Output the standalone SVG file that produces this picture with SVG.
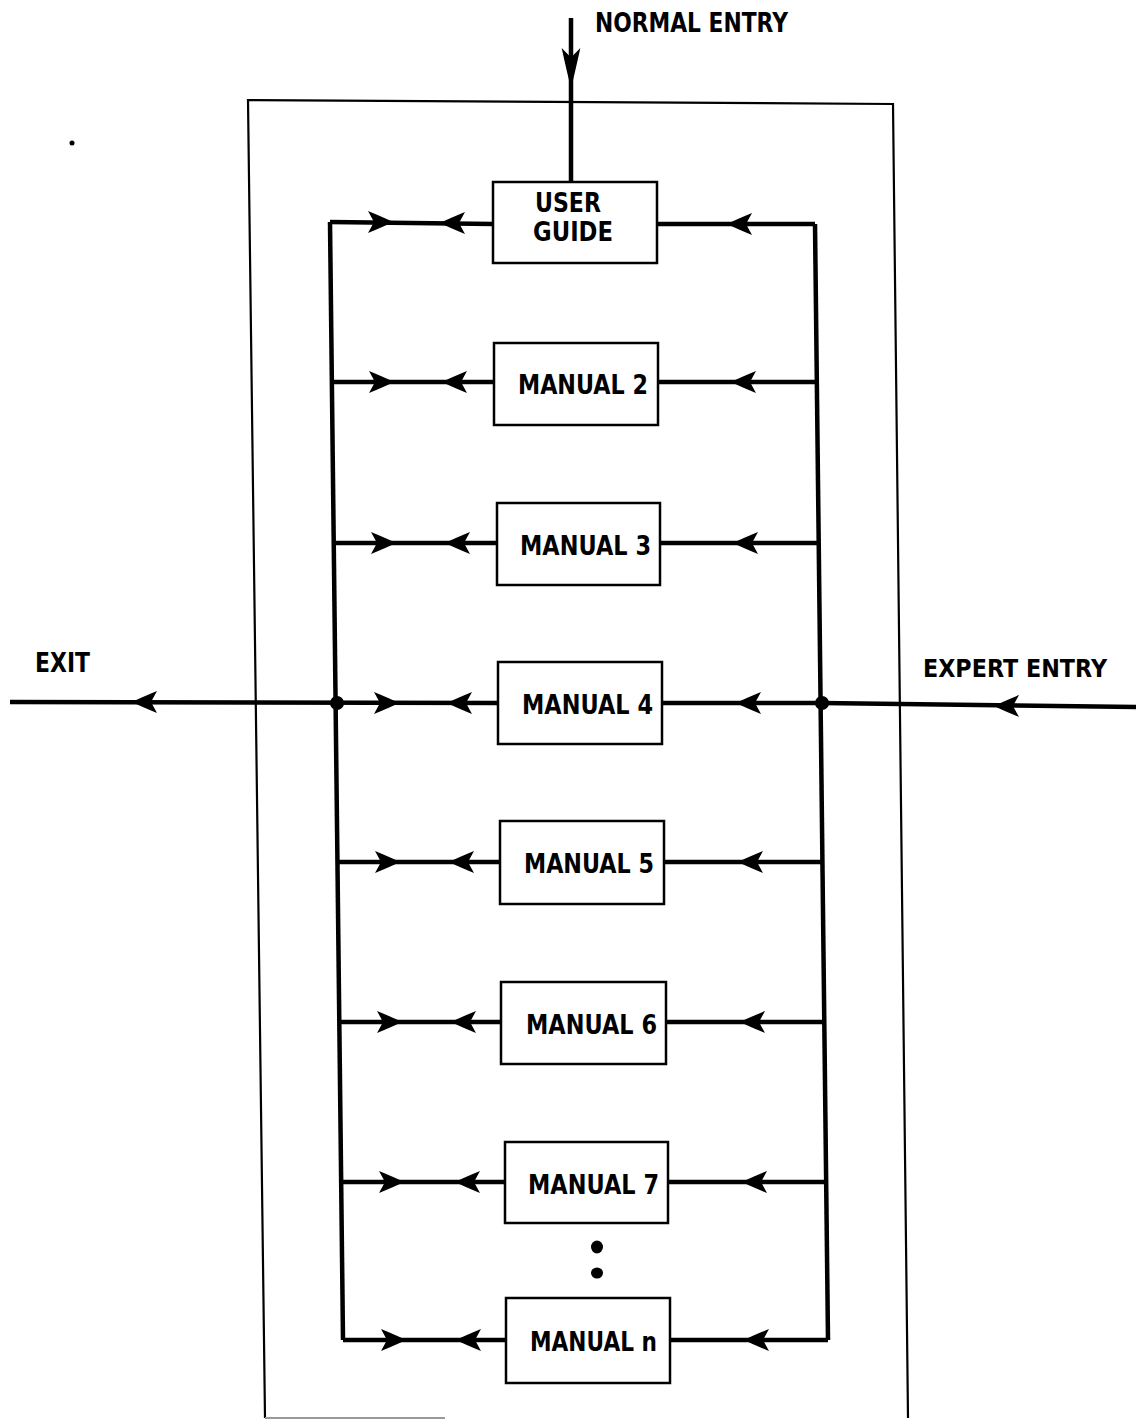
<svg xmlns="http://www.w3.org/2000/svg" width="1136" height="1420" viewBox="0 0 1136 1420">
<style>
.box{fill:#fff;stroke:#000;stroke-width:2.5}
.frame{fill:none;stroke:#000;stroke-width:2.2}
.bus{fill:none;stroke:#000;stroke-width:4.5;stroke-linejoin:miter}
.lbl{font-family:"DejaVu Sans",sans-serif;font-weight:bold;font-size:27px;fill:#000}
</style>
<defs>
<path id="ah" d="M0,0 Q8,-4 25,-11 L19,0 L25,11 Q8,4 0,0Z" fill="#000"/>
</defs>
<rect width="1136" height="1420" fill="#fff"/>
<g id="frame">
<path class="frame" d="M265,1418 L248,100 L893,104 L908,1418"/>
<line x1="265" y1="1418" x2="445" y2="1418" stroke="#999" stroke-width="2"/>
<circle cx="72" cy="143" r="2.5" fill="#000"/>
</g>
<g id="connectors">
<path class="bus" d="M571,18 L571,182"/>
<use href="#ah" transform="translate(571,88) rotate(-90) scale(1.6,0.85)"/>
<path class="bus" d="M330,222 L343,1340"/>
<path class="bus" d="M815,224 L828,1340"/>
<path class="bus" d="M330,222 L493,224 M657,224 L815,224"/>
<path class="bus" d="M332,382 L494,382 M658,382 L817,382"/>
<path class="bus" d="M334,543 L497,543 M660,543 L819,543"/>
<path class="bus" d="M10,702 L498,703 M662,703 L822,703 L1136,707"/>
<path class="bus" d="M337,862 L500,862 M664,862 L822,862"/>
<path class="bus" d="M339,1022 L501,1022 M666,1022 L824,1022"/>
<path class="bus" d="M341,1182 L505,1182 M668,1182 L826,1182"/>
<path class="bus" d="M343,1340 L506,1340 M670,1340 L828,1340"/>
<use href="#ah" transform="translate(393,222) scale(-1,1)"/>
<use href="#ah" transform="translate(440,223)"/>
<use href="#ah" transform="translate(727,224)"/>
<use href="#ah" transform="translate(394,382) scale(-1,1)"/>
<use href="#ah" transform="translate(442,382)"/>
<use href="#ah" transform="translate(731,382)"/>
<use href="#ah" transform="translate(396,543) scale(-1,1)"/>
<use href="#ah" transform="translate(445,543)"/>
<use href="#ah" transform="translate(733,543)"/>
<use href="#ah" transform="translate(132,702)"/>
<use href="#ah" transform="translate(399,703) scale(-1,1)"/>
<use href="#ah" transform="translate(447,703)"/>
<use href="#ah" transform="translate(736,703)"/>
<use href="#ah" transform="translate(994,706)"/>
<circle cx="337" cy="703" r="7" fill="#000"/>
<circle cx="822" cy="703" r="7" fill="#000"/>
<use href="#ah" transform="translate(400,862) scale(-1,1)"/>
<use href="#ah" transform="translate(449,862)"/>
<use href="#ah" transform="translate(738,862)"/>
<use href="#ah" transform="translate(402,1022) scale(-1,1)"/>
<use href="#ah" transform="translate(451,1022)"/>
<use href="#ah" transform="translate(740,1022)"/>
<use href="#ah" transform="translate(404,1182) scale(-1,1)"/>
<use href="#ah" transform="translate(455,1182)"/>
<use href="#ah" transform="translate(742,1182)"/>
<use href="#ah" transform="translate(406,1340) scale(-1,1)"/>
<use href="#ah" transform="translate(456,1340)"/>
<use href="#ah" transform="translate(744,1340)"/>
<ellipse cx="597" cy="1247" rx="6" ry="6.5" fill="#000"/>
<ellipse cx="597" cy="1273" rx="6" ry="5.5" fill="#000"/>
</g>
<g id="labels">
<text class="lbl" x="595" y="32" textLength="193" lengthAdjust="spacingAndGlyphs">NORMAL ENTRY</text>
<text class="lbl" x="35" y="672" textLength="55" lengthAdjust="spacingAndGlyphs">EXIT</text>
<text class="lbl" x="923" y="677" style="font-size:24.5px" textLength="184" lengthAdjust="spacingAndGlyphs">EXPERT ENTRY</text>
</g>
<g id="user-guide">
<rect class="box" x="493" y="182" width="164" height="81"/>
<text class="lbl" x="535" y="212" textLength="66" lengthAdjust="spacingAndGlyphs">USER</text>
<text class="lbl" x="533" y="241" textLength="80" lengthAdjust="spacingAndGlyphs">GUIDE</text>
</g>
<g id="manual-2">
<rect class="box" x="494" y="343" width="164" height="82"/>
<text class="lbl" x="518" y="394" textLength="130" lengthAdjust="spacingAndGlyphs">MANUAL 2</text>
</g>
<g id="manual-3">
<rect class="box" x="497" y="503" width="163" height="82"/>
<text class="lbl" x="520" y="555" textLength="131" lengthAdjust="spacingAndGlyphs">MANUAL 3</text>
</g>
<g id="manual-4">
<rect class="box" x="498" y="662" width="164" height="82"/>
<text class="lbl" x="522" y="714" textLength="131" lengthAdjust="spacingAndGlyphs">MANUAL 4</text>
</g>
<g id="manual-5">
<rect class="box" x="500" y="821" width="164" height="83"/>
<text class="lbl" x="524" y="873" textLength="130" lengthAdjust="spacingAndGlyphs">MANUAL 5</text>
</g>
<g id="manual-6">
<rect class="box" x="501" y="982" width="165" height="82"/>
<text class="lbl" x="526" y="1034" textLength="131" lengthAdjust="spacingAndGlyphs">MANUAL 6</text>
</g>
<g id="manual-7">
<rect class="box" x="505" y="1142" width="163" height="81"/>
<text class="lbl" x="528" y="1194" textLength="131" lengthAdjust="spacingAndGlyphs">MANUAL 7</text>
</g>
<g id="manual-n">
<rect class="box" x="506" y="1298" width="164" height="85"/>
<text class="lbl" x="530" y="1351" textLength="127" lengthAdjust="spacingAndGlyphs">MANUAL n</text>
</g>
</svg>
